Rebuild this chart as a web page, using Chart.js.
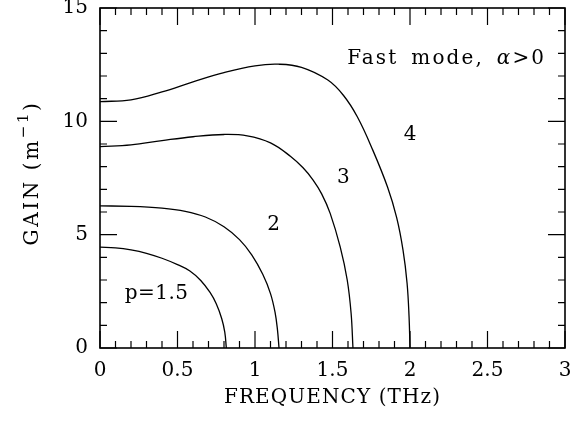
<!DOCTYPE html>
<html>
<head>
<meta charset="utf-8">
<script src="https://cdn.jsdelivr.net/npm/chart.js@4.4.1/dist/chart.umd.min.js"></script>
<style>
    html, body { margin: 0; background: #fff; }
    canvas { display: block; }
</style>
</head>
<body>
<canvas id="gain-chart" width="573" height="421"></canvas>
<script>
// Gain curves (frequency in THz, gain in 1/m)
const freq15 = [0, 0.1, 0.2, 0.3, 0.4, 0.5, 0.58, 0.65, 0.71, 0.75, 0.785, 0.805, 0.815];
const gain15 = [4.45, 4.42, 4.33, 4.18, 3.96, 3.68, 3.4, 2.98, 2.45, 1.95, 1.3, 0.7, 0];

const freq2 = [0, 0.2, 0.4, 0.55, 0.68, 0.8, 0.9, 0.98, 1.05, 1.1, 1.13, 1.145, 1.155];
const gain2 = [6.27, 6.25, 6.17, 6.03, 5.78, 5.35, 4.78, 4.1, 3.25, 2.4, 1.55, 0.8, 0];

const freq3 = [0, 0.2, 0.4, 0.6, 0.8, 0.95, 1.1, 1.23, 1.31, 1.375, 1.43, 1.485, 1.55, 1.595, 1.62, 1.632];
const gain3 = [8.88, 8.96, 9.15, 9.32, 9.42, 9.36, 9.05, 8.45, 7.95, 7.41, 6.8, 5.94, 4.45, 3.0, 1.53, 0];

const freq4 = [0, 0.2, 0.4, 0.6, 0.8, 1.0, 1.15, 1.3, 1.47, 1.57, 1.66, 1.76, 1.855, 1.914, 1.955, 1.981, 1.994, 2.0];
const gain4 = [10.87, 10.95, 11.3, 11.74, 12.15, 12.45, 12.52, 12.38, 11.82, 11.15, 10.2, 8.73, 7.1, 5.75, 4.32, 2.87, 1.37, 0];

const curveLabels = ['p=1.5', '2', '3', '4'];
const xTicks = [0, 0.5, 1, 1.5, 2, 2.5, 3];
const yTicks = [0, 5, 10, 15];

const SERIF = '"DejaVu Serif", "Liberation Serif", serif';
const FS = 20;
Chart.defaults.font.family = SERIF;
Chart.defaults.font.size = FS;
Chart.defaults.color = '#000';

function toPoints(xs, ys) {
    return xs.map((v, i) => ({ x: v, y: ys[i] }));
}

function curve(xs, ys) {
    return {
        data: toPoints(xs, ys),
        showLine: true,
        borderColor: '#000',
        borderWidth: 1.3,
        pointRadius: 0,
        tension: 0.4,
        fill: false
    };
}

function spacedText(ctx, text, x, y, spacing) {
    ctx.letterSpacing = spacing + 'px';
    ctx.fillText(text, x, y);
    ctx.letterSpacing = '0px';
}

// frame with inward ticks on all four sides, plus annotations and axis titles
const framePlugin = {
    id: 'frame',
    afterDraw(chart) {
        const { ctx, chartArea: a, scales: { x, y } } = chart;
        ctx.save();
        ctx.strokeStyle = '#000';
        ctx.lineWidth = 1.6;
        ctx.strokeRect(a.left, a.top, a.right - a.left, a.bottom - a.top);

        ctx.lineWidth = 1.2;
        ctx.beginPath();
        for (let i = 0; i <= 30; i++) {
            const px = x.getPixelForValue(i / 10);
            const len = i % 5 === 0 ? 17 : 7;
            ctx.moveTo(px, a.bottom); ctx.lineTo(px, a.bottom - len);
            ctx.moveTo(px, a.top); ctx.lineTo(px, a.top + len);
        }
        for (let v = 0; v <= 15; v++) {
            const py = y.getPixelForValue(v);
            const len = v % 5 === 0 ? 17 : 7;
            ctx.moveTo(a.left, py); ctx.lineTo(a.left + len, py);
            ctx.moveTo(a.right, py); ctx.lineTo(a.right - len, py);
        }
        ctx.stroke();

        ctx.fillStyle = '#000';
        ctx.font = FS + 'px ' + SERIF;
        ctx.textBaseline = 'middle';
        ctx.textAlign = 'center';
        const spots = [[0.365, 2.38], [1.12, 5.45], [1.57, 7.5], [2.0, 9.4]];
        curveLabels.forEach((t, i) => {
            spacedText(ctx, t, x.getPixelForValue(spots[i][0]), y.getPixelForValue(spots[i][1]), t.length > 1 ? 0.5 : 0);
        });

        // "Fast mode, α>0"
        const fy = y.getPixelForValue(12.75);
        ctx.textAlign = 'left';
        let fx = x.getPixelForValue(1.595);
        ctx.letterSpacing = '2.1px';
        ctx.fillText('Fast', fx, fy);
        fx += ctx.measureText('Fast').width + 13;
        ctx.fillText('mode,', fx, fy);
        fx += ctx.measureText('mode,').width + 13;
        ctx.font = 'italic ' + FS + 'px ' + SERIF;
        ctx.fillText('α', fx, fy);
        fx += ctx.measureText('α').width;
        ctx.font = FS + 'px ' + SERIF;
        ctx.fillText('>0', fx, fy);
        ctx.letterSpacing = '0px';

        // x title
        ctx.textAlign = 'center';
        ctx.textBaseline = 'alphabetic';
        spacedText(ctx, 'FREQUENCY (THz)', (a.left + a.right) / 2, 403, 1.1);

        // y title with superscript
        ctx.translate(38, 173);
        ctx.rotate(-Math.PI / 2);
        ctx.textAlign = 'left';
        ctx.letterSpacing = '2.6px';
        const base = 'GAIN (m';
        ctx.font = FS + 'px ' + SERIF;
        const wBase = ctx.measureText(base).width;
        ctx.font = '15px ' + SERIF;
        const wSup = ctx.measureText('−1').width;
        ctx.font = FS + 'px ' + SERIF;
        const wClose = ctx.measureText(')').width;
        let tx = -(wBase + wSup + wClose) / 2;
        ctx.fillText(base, tx, 0);
        tx += wBase;
        ctx.font = '15px ' + SERIF;
        ctx.fillText('−1', tx, -10);
        tx += wSup;
        ctx.font = FS + 'px ' + SERIF;
        ctx.fillText(')', tx, 0);
        ctx.restore();
    }
};

new Chart(document.getElementById('gain-chart'), {
    type: 'scatter',
    data: {
        datasets: [
            curve(freq15, gain15),
            curve(freq2, gain2),
            curve(freq3, gain3),
            curve(freq4, gain4)
        ]
    },
    options: {
        responsive: false,
        animation: false,
        devicePixelRatio: 1,
        layout: { padding: { top: 8, right: 8, left: 0, bottom: 0 } },
        plugins: { legend: { display: false }, tooltip: { enabled: false } },
        scales: {
            x: {
                type: 'linear',
                min: 0,
                max: 3,
                afterBuildTicks: (s) => { s.ticks = xTicks.map(v => ({ value: v })); },
                ticks: { padding: 11, maxRotation: 0, callback: (v) => String(v) },
                grid: { display: false, drawTicks: false },
                border: { display: false },
                afterFit: (s) => { s.height = 73; s.paddingLeft = 0; s.paddingRight = 0; }
            },
            y: {
                type: 'linear',
                min: 0,
                max: 15,
                afterBuildTicks: (s) => { s.ticks = yTicks.map(v => ({ value: v })); },
                ticks: { padding: 12, callback: (v) => String(v) },
                grid: { display: false, drawTicks: false },
                border: { display: false },
                afterFit: (s) => { s.width = 100; s.paddingTop = 0; s.paddingBottom = 0; }
            }
        }
    },
    plugins: [framePlugin]
});
</script>
</body>
</html>
